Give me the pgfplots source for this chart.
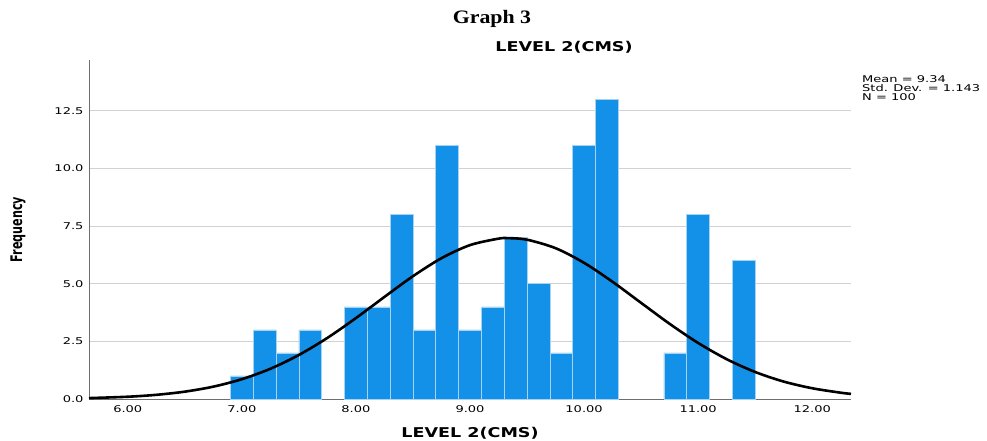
\documentclass[border=0pt]{standalone}
\usepackage{fontspec}
\usepackage{pgfplots}
\pgfplotsset{compat=1.18}
\setmainfont{DejaVu Sans}
\newfontfamily\tickfont[FakeStretch=1.4]{DejaVu Sans}
\newfontfamily\labfont[FakeStretch=1.3]{DejaVu Sans}
\newfontfamily\freqfont[FakeStretch=0.7]{DejaVu Sans}
\newfontfamily\docfont[FakeStretch=1.15]{Liberation Serif}
\definecolor{barblue}{HTML}{1390E8}
\definecolor{baredge}{HTML}{A6D3F4}
\definecolor{gridgray}{HTML}{D2D2D2}
\definecolor{axisgray}{HTML}{6E6E6E}

\begin{document}
\begin{tikzpicture}
\path[use as bounding box] (-89pt,-42pt) rectangle (898pt,399pt);
\begin{axis}[
    scale only axis,
    width=762pt, height=339pt,
    xmin=5.66, xmax=12.34,
    ymin=0, ymax=14.71,
    axis x line*=bottom, axis y line*=left,
    axis line style={draw=axisgray, line width=0.9pt},
    xtick={6,7,8,9,10,11,12},
    ytick={0,2.5,5,7.5,10,12.5},
    xticklabels={6.00,7.00,8.00,9.00,10.00,11.00,12.00},
    yticklabels={0.0,2.5,5.0,7.5,10.0,12.5},
    major tick length=0pt,
    ymajorgrids,
    grid style={draw=gridgray, line width=0.9pt},
    tick label style={font=\tickfont\fontsize{9.3}{9.5}\selectfont},
    xticklabel style={yshift=-3pt},
    yticklabel style={xshift=-2pt},
    xlabel={LEVEL 2(CMS)},
    xlabel style={font=\labfont\bfseries\fontsize{13.5}{14}\selectfont, yshift=-8pt},
    ylabel={Frequency},
    ylabel style={font=\freqfont\bfseries\fontsize{16}{16}\selectfont, yshift=22pt},
    clip=false,
]
\addplot[ybar, bar width=0.2, bar shift=0pt, fill=barblue, draw=baredge, line width=0.6pt]
  coordinates {
    (7.0,1) (7.2,3) (7.4,2) (7.6,3)
    (8.0,4) (8.2,4) (8.4,8) (8.6,3) (8.8,11) (9.0,3) (9.2,4)
    (9.4,7) (9.6,5) (9.8,2) (10.0,11) (10.2,13)
    (10.8,2) (11.0,8) (11.4,6)
  };
\addplot[black, line width=2.6pt, smooth] coordinates {
    (5.66,0.039) (6.00,0.098) (6.25,0.181) (6.50,0.319) (6.75,0.536)
    (7.00,0.859) (7.25,1.312) (7.50,1.910) (7.75,2.652) (8.00,3.511)
    (8.25,4.430) (8.50,5.329) (8.75,6.110) (9.00,6.678) (9.25,6.958)
    (9.34,6.980) (9.50,6.912) (9.75,6.545) (10.00,5.909) (10.25,5.084)
    (10.50,4.171) (10.75,3.262) (11.00,2.431) (11.25,1.728) (11.50,1.171)
    (11.75,0.756) (12.00,0.466) (12.25,0.273) (12.34,0.223)
  };
\end{axis}
\node[font=\labfont\bfseries\fontsize{13.5}{14}\selectfont] at (475pt,352pt) {LEVEL 2(CMS)};
\node[font=\docfont\bfseries\fontsize{19}{20}\selectfont] at (403pt,380pt) {Graph 3};
\node[anchor=north west, align=left, inner sep=0pt,
      font=\tickfont\fontsize{9.3}{9}\selectfont] at (773pt,324pt)
  {Mean = 9.34\\Std. Dev. = 1.143\\N = 100};
\end{tikzpicture}
\end{document}
